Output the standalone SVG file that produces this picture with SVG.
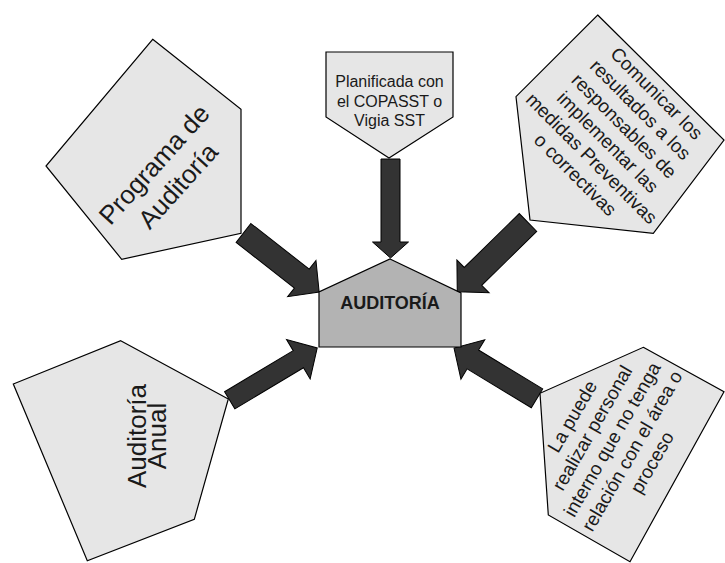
<svg xmlns="http://www.w3.org/2000/svg" width="725" height="563" viewBox="0 0 725 563">
  <style>
    .shape { fill: #e6e6e6; stroke: #000; stroke-width: 1.2; stroke-linejoin: miter; }
    .core { fill: #b3b3b3; stroke: #000; stroke-width: 1.2; }
    .arrow { fill: #333333; stroke: #000; stroke-width: 1; stroke-linejoin: miter; }
    .lbl { font-family: "Liberation Sans", Arial, sans-serif; fill: #1a1a1a; text-anchor: middle; }
    .title { font-weight: bold; font-size: 18px; }
  </style>

  <rect width="725" height="563" fill="#ffffff"/>

  <!-- Connectors: thick block arrows pointing at the central node -->
  <g id="connectors">
    <!-- from top box -->
    <path class="arrow" transform="translate(390.5,159) rotate(90)" d="M0,-9.5 L83,-9.5 L83,-18 L99,0 L83,18 L83,9.5 L0,9.5 Z"/>
    <!-- from top-left box -->
    <path class="arrow" transform="translate(243.5,233) rotate(38)" d="M0,-12 L74,-12 L74,-23 L96,0 L74,23 L74,12 L0,12 Z"/>
    <!-- from top-right box -->
    <path class="arrow" transform="translate(528,222.5) rotate(135.6)" d="M0,-12.5 L77,-12.5 L77,-23 L99,0 L77,23 L77,12.5 L0,12.5 Z"/>
    <!-- from bottom-left box -->
    <path class="arrow" transform="translate(229.7,400.3) rotate(-30.9)" d="M0,-10 L80,-10 L80,-23 L102,0 L80,23 L80,10 L0,10 Z"/>
    <!-- from bottom-right box -->
    <path class="arrow" transform="translate(537,398.3) rotate(211.2)" d="M0,-11 L75,-11 L75,-23 L97,0 L75,23 L75,11 L0,11 Z"/>
  </g>

  <!-- Central node -->
  <g id="auditoria">
    <polygon class="core" points="390,259 461,293 461,347 319,347 319,292"/>
    <text class="lbl title" x="390" y="308.5">AUDITORÍA</text>
  </g>

  <!-- Top node -->
  <g id="planificada">
    <polygon class="shape" points="326,52 453,52 453,117 389,158 326,117"/>
    <text class="lbl" font-size="16" x="389.5" y="86.5">Planificada con</text>
    <text class="lbl" font-size="16" x="389.5" y="106.5">el COPASST o</text>
    <text class="lbl" font-size="16" x="389.5" y="126">Vigia SST</text>
  </g>

  <!-- Top-left node -->
  <g id="programa">
    <polygon class="shape" points="152.7,39.3 241,109.3 241,233.3 121.7,259.3 46,166"/>
    <g transform="translate(166,175) rotate(-48)">
      <text class="lbl" font-size="26" x="0" y="-7">Programa de</text>
      <text class="lbl" font-size="26" x="0" y="25">Auditoría</text>
    </g>
  </g>

  <!-- Top-right node -->
  <g id="comunicar">
    <polygon class="shape" points="597.7,15 724,140 653.3,233.3 530,220 516,96.7"/>
    <g transform="translate(616,134) rotate(45)" font-size="19">
      <text class="lbl" x="0" y="-51">Comunicar los</text>
      <text class="lbl" x="0" y="-28">resultados a los</text>
      <text class="lbl" x="0" y="-5">responsables de</text>
      <text class="lbl" x="0" y="18">implementar las</text>
      <text class="lbl" x="0" y="41">medidas Preventivas</text>
      <text class="lbl" x="0" y="64">o correctivas</text>
    </g>
  </g>

  <!-- Bottom-left node -->
  <g id="anual">
    <polygon class="shape" points="120.7,340.7 228.3,399 194.3,519.3 87.3,560.7 13.3,384"/>
    <g transform="translate(147,436) rotate(-90)" font-size="26">
      <text class="lbl" x="0" y="-1">Auditoría</text>
      <text class="lbl" x="0" y="19">Anual</text>
    </g>
  </g>

  <!-- Bottom-right node -->
  <g id="personal">
    <polygon class="shape" points="643.3,347.3 724,391.7 630,561.7 548.3,515 540,393.3"/>
    <g transform="translate(611.7,439.2) rotate(-60)" font-size="19">
      <text class="lbl" x="0" y="-39">La puede</text>
      <text class="lbl" x="0" y="-16">realizar personal</text>
      <text class="lbl" x="0" y="7">interno que no tenga</text>
      <text class="lbl" x="0" y="30">relación con el área o</text>
      <text class="lbl" x="0" y="53">proceso</text>
    </g>
  </g>
</svg>
